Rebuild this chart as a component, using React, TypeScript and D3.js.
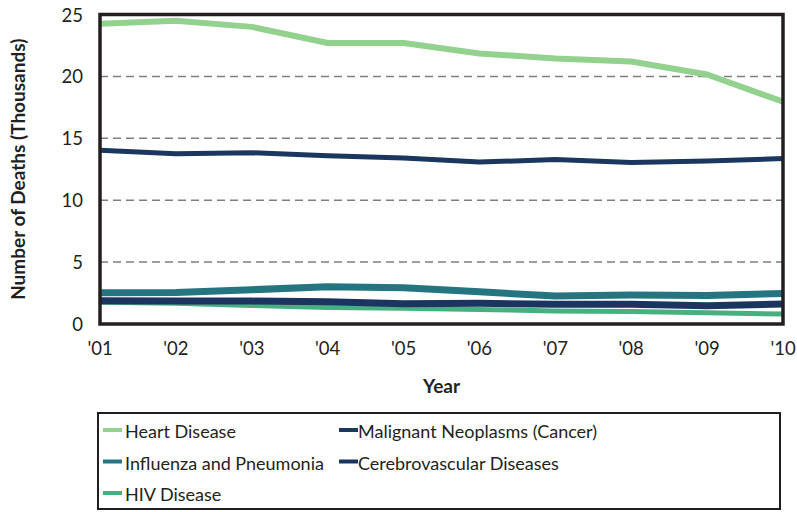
import React from "react";
import * as d3 from "d3";

const years = ["'01", "'02", "'03", "'04", "'05", "'06", "'07", "'08", "'09", "'10"];
const yTicks = [0, 5, 10, 15, 20, 25];
const gridTicks = [5, 10, 15, 20];

const heartDisease = [24.25, 24.5, 24.0, 22.7, 22.7, 21.85, 21.45, 21.2, 20.15, 17.95];
const cancer = [14.03, 13.75, 13.83, 13.6, 13.4, 13.08, 13.28, 13.04, 13.17, 13.36];
const influenza = [2.52, 2.55, 2.77, 3.0, 2.93, 2.6, 2.26, 2.34, 2.3, 2.47];
const cerebrovascular = [1.88, 1.85, 1.85, 1.8, 1.64, 1.67, 1.59, 1.59, 1.48, 1.62];
const hiv = [1.75, 1.68, 1.5, 1.34, 1.27, 1.18, 1.05, 1.0, 0.91, 0.81];

const seriesDraw = [
  { name: "Heart Disease", values: heartDisease, color: "#93d18e", width: 6 },
  { name: "Malignant Neoplasms (Cancer)", values: cancer, color: "#1b365f", width: 5 },
  { name: "HIV Disease", values: hiv, color: "#48b080", width: 5 },
  { name: "Influenza and Pneumonia", values: influenza, color: "#24757f", width: 7 },
  { name: "Cerebrovascular Diseases", values: cerebrovascular, color: "#1b3560", width: 7 },
];

const legendOrder = [
  "Heart Disease",
  "Malignant Neoplasms (Cancer)",
  "Influenza and Pneumonia",
  "Cerebrovascular Diseases",
  "HIV Disease",
];

const FONT = "Lato, 'Open Sans', sans-serif";

export default function App() {
  const W = 797;
  const H = 512;
  const left = 100;
  const right = 783;
  const top = 14.5;
  const bottom = 324;

  const x = d3.scalePoint<string>().domain(years).range([left, right]);
  const y = d3.scaleLinear().domain([0, 25]).range([bottom, top]);

  const line = d3
    .line<number>()
    .x((_, i) => x(years[i]) as number)
    .y((d) => y(d));

  const legendX = [103, 339];
  const legendTextX = [125, 358];
  const legendRowY = [431, 462.5, 494];

  return (
    <svg
      width={W}
      height={H}
      style={{ position: "absolute", left: 0, top: 0, background: "#fff" }}
    >
      <defs>
        <clipPath id="plotclip">
          <rect x={left} y={top} width={right - left} height={bottom - top} />
        </clipPath>
      </defs>
      {gridTicks.map((t) => (
        <line
          key={t}
          x1={left}
          x2={right}
          y1={y(t)}
          y2={y(t)}
          stroke="#7f7f7f"
          strokeWidth={1.5}
          strokeDasharray="8,5"
        />
      ))}
      <g clipPath="url(#plotclip)">
        {seriesDraw.map((s) => (
          <path
            key={s.name}
            d={line(s.values) || ""}
            fill="none"
            stroke={s.color}
            strokeWidth={s.width}
            strokeLinejoin="round"
          />
        ))}
      </g>
      <rect
        x={left}
        y={top}
        width={right - left}
        height={bottom - top}
        fill="none"
        stroke="#231f20"
        strokeWidth={3.5}
      />
      {yTicks.map((t) => (
        <text
          key={t}
          x={83}
          y={y(t)}
          textAnchor="end"
          dominantBaseline="central"
          fontFamily={FONT}
          fontSize={18.5}
          fill="#231f20"
        >
          {t}
        </text>
      ))}
      {years.map((yr) => (
        <text
          key={yr}
          x={x(yr) as number}
          y={348}
          textAnchor="middle"
          dominantBaseline="central"
          fontFamily={FONT}
          fontSize={18.5}
          fill="#231f20"
        >
          {yr}
        </text>
      ))}
      <text
        x={(left + right) / 2}
        y={385}
        textAnchor="middle"
        dominantBaseline="central"
        fontFamily={FONT}
        fontSize={19}
        fontWeight="bold"
        fill="#231f20"
      >
        Year
      </text>
      <text
        transform={`translate(17,${(top + bottom) / 2}) rotate(-90)`}
        textAnchor="middle"
        dominantBaseline="central"
        fontFamily={FONT}
        fontSize={19}
        fontWeight="bold"
        fill="#231f20"
      >
        Number of Deaths (Thousands)
      </text>
      <rect
        x={98}
        y={413}
        width={682}
        height={96}
        fill="#fff"
        stroke="#231f20"
        strokeWidth={2}
      />
      {legendOrder.map((name, i) => {
        const s = seriesDraw.find((d) => d.name === name)!;
        const col = i % 2;
        const row = Math.floor(i / 2);
        const cy = legendRowY[row];
        return (
          <g key={name}>
            <line
              x1={legendX[col]}
              x2={legendX[col] + 19}
              y1={cy - 1}
              y2={cy - 1}
              stroke={s.color}
              strokeWidth={4}
            />
            <text
              x={legendTextX[col]}
              y={cy}
              dominantBaseline="central"
              fontFamily={FONT}
              fontSize={18}
              fill="#231f20"
            >
              {name}
            </text>
          </g>
        );
      })}
    </svg>
  );
}
